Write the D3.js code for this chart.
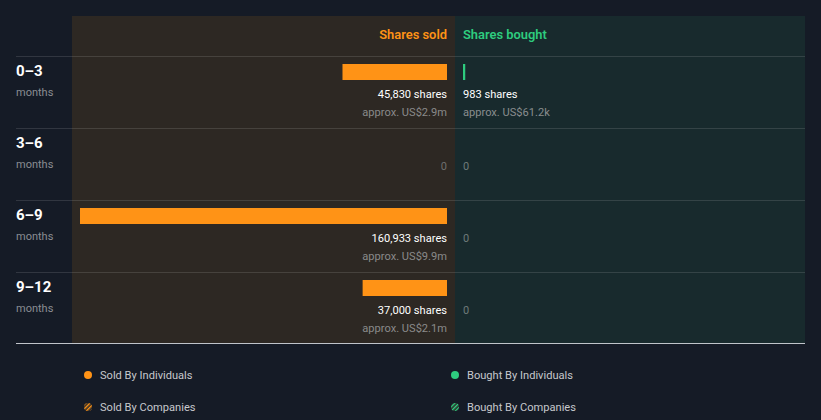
<!DOCTYPE html>
<html><head><meta charset="utf-8">
<script src="https://cdn.jsdelivr.net/npm/d3@7"></script>
<style>
html,body{margin:0;padding:0;background:#151b26;}
svg{display:block;font-family:Roboto,"Open Sans",sans-serif;}
</style></head>
<body>
<svg id="chart" width="821" height="420"></svg>
<script>
const periods = ["0\u20133","3\u20136","6\u20139","9\u201312"];
const periodUnit = "months";
const soldShares = [45830, 0, 160933, 37000];
const soldValue = ["approx. US$2.9m", null, "approx. US$9.9m", "approx. US$2.1m"];
const boughtShares = [983, 0, 0, 0];
const boughtValue = ["approx. US$61.2k", null, null, null];
const legendItems = [
  {label:"Sold By Individuals", type:"solid", color:"#ff9316"},
  {label:"Bought By Individuals", type:"solid", color:"#2ecc7f"},
  {label:"Sold By Companies", type:"hatch", color:"#ff9316"},
  {label:"Bought By Companies", type:"hatch", color:"#2ecc7f"}
];

(function(){
const orange = "#ff9316", green = "#2ecc7f";
const svg = d3.select("#chart");
const fmt = d3.format(",");

const topY = 16, headerH = 40, rowH = 72;
const leftX = 16, soldX0 = 72, midX = 455, rightX = 805;
const y = d3.scaleBand().domain(periods).range([topY+headerH, topY+headerH+rowH*periods.length]);
const maxV = d3.max(soldShares.concat(boughtShares));
const w = d3.scaleLinear().domain([0, maxV]).range([0, 367]);

const defs = svg.append("defs");
[["hatchO", orange], ["hatchG", green]].forEach(([id, c]) => {
  const p = defs.append("pattern").attr("id", id).attr("patternUnits","userSpaceOnUse")
    .attr("width",3).attr("height",3).attr("patternTransform","rotate(45)");
  p.append("rect").attr("width",3).attr("height",3).attr("fill","#2b2a28");
  p.append("rect").attr("width",1.4).attr("height",3).attr("fill",c);
});

const bottomY = y.range()[1] - 1;
svg.append("rect").attr("x",soldX0).attr("y",topY).attr("width",midX-soldX0).attr("height",bottomY-topY).attr("fill","#2d2823");
svg.append("rect").attr("x",midX).attr("y",topY).attr("width",rightX-midX).attr("height",bottomY-topY).attr("fill","#182a2d");

svg.append("text").attr("x",447).attr("y",39).attr("text-anchor","end").attr("fill",orange)
  .attr("font-size",12.9).attr("font-weight",600).text("Shares sold");
svg.append("text").attr("x",463).attr("y",39).attr("fill",green)
  .attr("font-size",12.9).attr("font-weight",600).text("Shares bought");

periods.forEach(p => {
  svg.append("line").attr("x1",leftX).attr("x2",rightX).attr("y1",y(p)+0.5).attr("y2",y(p)+0.5)
    .attr("stroke","#ffffff").attr("stroke-opacity",0.12);
});
svg.append("line").attr("x1",leftX).attr("x2",rightX).attr("y1",bottomY+0.5).attr("y2",bottomY+0.5)
  .attr("stroke","#c0c4ca").attr("stroke-width",1);

periods.forEach((p, i) => {
  const y0 = y(p);
  svg.append("text").attr("x",leftX).attr("y",y0+20).attr("fill","#ffffff").attr("font-size",15)
    .attr("font-weight",700).text(p);
  svg.append("text").attr("x",leftX).attr("y",y0+40).attr("fill","#8a8d93").attr("font-size",11).text(periodUnit);

  if (soldShares[i] > 0) {
    svg.append("rect").attr("x",447 - w(soldShares[i])).attr("y",y0+8).attr("width",w(soldShares[i])).attr("height",16).attr("fill",orange);
    svg.append("text").attr("x",447).attr("y",y0+42).attr("text-anchor","end").attr("fill","#ffffff").attr("font-size",11.1).text(fmt(soldShares[i])+" shares");
    svg.append("text").attr("x",447).attr("y",y0+60).attr("text-anchor","end").attr("fill","#8a8a8a").attr("font-size",11.1).text(soldValue[i]);
  } else {
    svg.append("text").attr("x",447).attr("y",y0+42).attr("text-anchor","end").attr("fill","#6f6f6f").attr("font-size",11).text("0");
  }
  if (boughtShares[i] > 0) {
    svg.append("rect").attr("x",463).attr("y",y0+8).attr("width",Math.max(2,w(boughtShares[i]))).attr("height",16).attr("fill",green);
    svg.append("text").attr("x",463).attr("y",y0+42).attr("fill","#ffffff").attr("font-size",11.1).text(fmt(boughtShares[i])+" shares");
    svg.append("text").attr("x",463).attr("y",y0+60).attr("fill","#8a8d8f").attr("font-size",11.1).text(boughtValue[i]);
  } else {
    svg.append("text").attr("x",463).attr("y",y0+42).attr("fill","#6f7a7a").attr("font-size",11).text("0");
  }
});

const legPos = [[88,375],[455,375],[88,407],[455,407]];
legendItems.forEach((d, i) => {
  const [cx, cy] = legPos[i];
  if (d.type === "solid") {
    svg.append("circle").attr("cx",cx).attr("cy",cy).attr("r",4).attr("fill",d.color);
  } else {
    svg.append("circle").attr("cx",cx).attr("cy",cy).attr("r",4).attr("fill", d.color===orange ? "url(#hatchO)" : "url(#hatchG)");
  }
  svg.append("text").attr("x",cx+12).attr("y",cy+4).attr("fill","#c6c8cc").attr("font-size",11.1).text(d.label);
});
})();
</script>
</body></html>
